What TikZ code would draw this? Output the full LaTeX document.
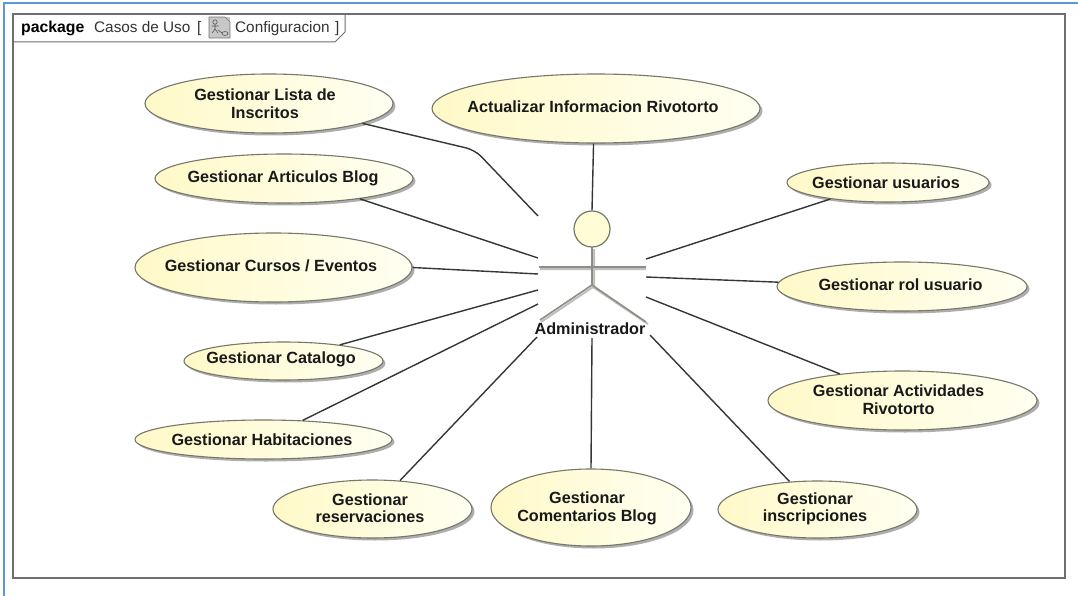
\documentclass[tikz,border=0pt]{standalone}
\usepackage{fontspec}
\setmainfont{Liberation Sans}
\usetikzlibrary{shapes.geometric,shadows,backgrounds}
\definecolor{ucfill}{HTML}{FFF9C8}
\definecolor{ucend}{HTML}{FFFFF2}
\definecolor{headfill}{HTML}{FFFCD6}
\definecolor{ucedge}{HTML}{77776A}
\definecolor{lineink}{HTML}{333833}
\definecolor{actorgray}{HTML}{8E8E84}
\definecolor{framegray}{HTML}{6E6E6E}
\definecolor{outerblue}{HTML}{5B9BD5}
\tikzset{
  usecase/.style={ellipse,draw=ucedge,line width=1.1pt,left color=ucfill,right color=ucend,
    drop shadow={shadow xshift=2.5pt,shadow yshift=-2.5pt,fill=black!45,opacity=.7},
    inner sep=0pt},
  uclabel/.style={align=center,inner sep=0pt,text=black!90,font=\fontsize{16.2}{17.5}\selectfont\bfseries},
  link/.style={draw=lineink,line width=1.4pt},
  limb/.style={draw=actorgray,line width=1.6pt},
  limbshadow/.style={draw=black!25,line width=2pt},
  tabtext/.style={inner sep=0pt,anchor=base west,font=\fontsize{15.3}{18}\selectfont,text=black!80},
}
\begin{document}
\begin{tikzpicture}[x=1pt,y=-1pt]
\useasboundingbox (0,0) rectangle (1078,596);
\fill[white] (0,0) rectangle (1078,596);
\draw[outerblue,line width=1.6pt] (4,596) -- (4,3) -- (1078,3);
\draw[framegray,line width=1.3pt] (13,14) rectangle (1065,578);
\draw[framegray,line width=1pt] (13,42) -- (335,42) -- (345,32) -- (345,14);

\node[tabtext,font=\fontsize{15.8}{18}\selectfont\bfseries,text=black] (pk) at (21,33) {package};
\node[tabtext] (cu) at (94,33) {Casos de Uso};
\node[tabtext] (lb) at (197,33) {[};
\node[tabtext] (cf) at (235,33) {Configuracion};
\node[tabtext] (rb) at (335,33) {]};
% diagram icon
\fill[black!22] (209,17) rectangle (230,38);
\draw[black!55,line width=.6pt] (209,17) -- (225,17) -- (230,22) -- (230,38) -- (209,38) -- cycle;
\draw[black!65,line width=.6pt] (215,22) circle (2.2) (215,24) -- (215,29) (211.5,26) -- (218.5,26) (215,29) -- (212,33) (215,29) -- (218,33) (218,30) -- (222,33);
\draw[black!65,line width=.6pt] (225,33.5) ellipse (3 and 2);

% use cases
\node[usecase,minimum width=248pt,minimum height=59pt] (lista) at (269,103.5) {};
\node[usecase,minimum width=328pt,minimum height=69pt] (actualizar) at (596,108.5) {};
\node[usecase,minimum width=258pt,minimum height=49pt] (articulos) at (284,178.5) {};
\node[usecase,minimum width=202pt,minimum height=39pt] (usuarios) at (888,182.5) {};
\node[usecase,minimum width=277pt,minimum height=69pt] (cursos) at (273.5,267.5) {};
\node[usecase,minimum width=250pt,minimum height=49pt] (rol) at (902,286.5) {};
\node[usecase,minimum width=199pt,minimum height=38pt] (catalogo) at (283.5,361) {};
\node[usecase,minimum width=269pt,minimum height=59pt] (actividades) at (902.5,400.5) {};
\node[usecase,minimum width=257pt,minimum height=39pt] (habitaciones) at (263.5,439.5) {};
\node[usecase,minimum width=199pt,minimum height=58pt] (reservaciones) at (372.5,509) {};
\node[usecase,minimum width=200pt,minimum height=77pt] (comentarios) at (591,507.5) {};
\node[usecase,minimum width=199pt,minimum height=57pt] (inscripciones) at (817.5,509.5) {};

\node[uclabel] (tLista) at (265,103.5) {Gestionar Lista de\\Inscritos};
\node[uclabel] (tActualizar) at (593,107) {Actualizar Informacion Rivotorto};
\node[uclabel] (tArticulos) at (283,178) {Gestionar Articulos Blog};
\node[uclabel] (tUsuarios) at (886,182.5) {Gestionar usuarios};
\node[uclabel] (tCursos) at (271,265.5) {Gestionar Cursos / Eventos};
\node[uclabel] (tRol) at (900.5,285) {Gestionar rol usuario};
\node[uclabel] (tCatalogo) at (281,359.5) {Gestionar Catalogo};
\node[uclabel] (tActividades) at (898.5,399.5) {Gestionar Actividades\\Rivotorto};
\node[uclabel] (tHabitaciones) at (262,439.5) {Gestionar Habitaciones};
\node[uclabel] (tReservaciones) at (370,508) {Gestionar\\reservaciones};
\node[uclabel] (tComentarios) at (587,508.5) {Gestionar\\Comentarios Blog};
\node[uclabel] (tInscripciones) at (815,509) {Gestionar\\inscripciones};

% actor
\draw[limbshadow] (594,249) -- (594,287) (540,269) -- (646,269) (593,287) -- (541,322) (593,287) -- (648,324);
\draw[limb] (592,247) -- (592,285) (539,267) -- (646,267) (592,285) -- (540,320) (592,285) -- (646,322);
\node[circle,draw=ucedge,line width=1.2pt,fill=headfill,minimum size=36pt,inner sep=0pt] (head) at (592,229) {};
\node[uclabel,font=\fontsize{16.2}{18}\selectfont\bfseries] (admin) at (590,329) {Administrador};

% connector ends at the actor
\coordinate (bend) at (475,150);
\coordinate (eLista) at (538,216);
\coordinate (eArt) at (538,258);
\coordinate (eCur) at (538,274);
\coordinate (eCat) at (538,290);
\coordinate (eHab) at (538,304);
\coordinate (eRes) at (537,337);
\coordinate (eCom) at (592,338);
\coordinate (eIns) at (650,335);
\coordinate (eAct) at (646,297);
\coordinate (eRol) at (646,277);
\coordinate (eUsu) at (646,259);

\draw[link,rounded corners=9pt] (lista.-12.3) -- (bend) -- (eLista);
\draw[link] (actualizar.-94.5) -- (head.north);
\draw[link] (articulos.-15.2) -- (eArt);
\draw[link] (cursos.-0.5) -- (eCur);
\draw[link] (catalogo.16) -- (eCat);
\draw[link] (habitaciones.26) -- (eHab);
\draw[link] (reservaciones.46.6) -- (eRes);
\draw[link] (comentarios.90) -- (eCom);
\draw[link] (inscripciones.135) -- (eIns);
\draw[link] (actividades.157) -- (eAct);
\draw[link] (rol.178) -- (eRol);
\draw[link] (usuarios.196.7) -- (eUsu);
\end{tikzpicture}
\end{document}
